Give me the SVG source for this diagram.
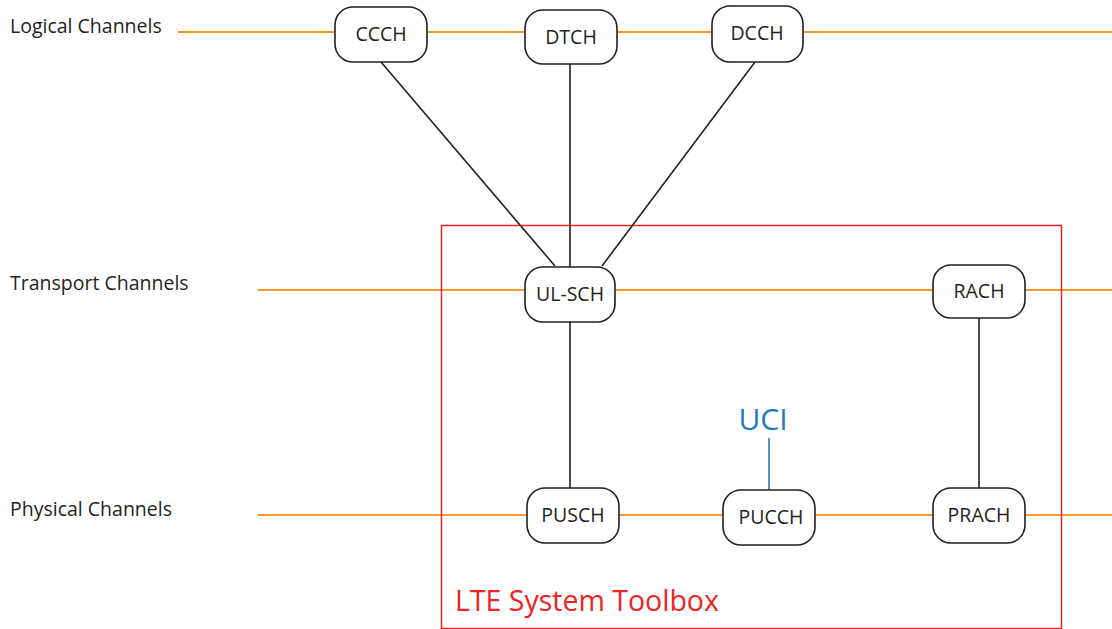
<svg xmlns="http://www.w3.org/2000/svg" width="1112" height="629" viewBox="0 0 1112 629">
<style>
.ch{stroke:#f39a2b;stroke-width:2;fill:none}
.lk{stroke:#231f20;stroke-width:1.6;fill:none}
.box{fill:#fff;stroke:#231f20;stroke-width:1.6}
.t{font-family:"Open Sans","Liberation Sans",sans-serif;font-size:19.5px;fill:#231f20;text-anchor:middle}
.lab{font-family:"Open Sans","Liberation Sans",sans-serif;font-size:19.5px;fill:#231f20}
</style>
<rect width="1112" height="629" fill="#fff"/>
<g id="channels">
<line class="ch" x1="178" y1="32" x2="1112" y2="32"/>
<line class="ch" x1="258" y1="290" x2="1112" y2="290"/>
<line class="ch" x1="258" y1="515" x2="1112" y2="515"/>
</g>
<g id="toolbox">
<rect x="441.5" y="225.5" width="620" height="403" fill="none" stroke="#ee2424" stroke-width="1.5"/>
<text x="455" y="611" font-family="'Open Sans','Liberation Sans',sans-serif" font-size="28.5" fill="#ee2424">LTE System Toolbox</text>
</g>
<g id="labels">
<text class="lab" x="10" y="33">Logical Channels</text>
<text class="lab" x="10" y="290">Transport Channels</text>
<text class="lab" x="10" y="516">Physical Channels</text>
</g>
<g id="connectors">
<line class="lk" x1="381" y1="62" x2="555" y2="266"/>
<line class="lk" x1="570" y1="64" x2="570" y2="267"/>
<line class="lk" x1="755" y1="62" x2="602" y2="266"/>
<line class="lk" x1="570" y1="322" x2="570" y2="488"/>
<line class="lk" x1="979" y1="318" x2="979" y2="488"/>
<line x1="769" y1="438" x2="769" y2="490" stroke="#1f7bc0" stroke-width="1.6"/>
</g>
<g id="CCCH"><rect class="box" x="335" y="7" width="92" height="55" rx="18"/><text class="t" x="381" y="41">CCCH</text></g>
<g id="DTCH"><rect class="box" x="525" y="10" width="92" height="54" rx="18"/><text class="t" x="571" y="44">DTCH</text></g>
<g id="DCCH"><rect class="box" x="712" y="6" width="91" height="56" rx="18"/><text class="t" x="757" y="40">DCCH</text></g>
<g id="UL-SCH"><rect class="box" x="525" y="267" width="90" height="55" rx="18"/><text class="t" x="570" y="301">UL-SCH</text></g>
<g id="RACH"><rect class="box" x="933" y="265" width="92" height="53" rx="18"/><text class="t" x="979" y="298">RACH</text></g>
<g id="PUSCH"><rect class="box" x="527" y="488" width="92" height="55" rx="18"/><text class="t" x="573" y="522">PUSCH</text></g>
<g id="PUCCH"><rect class="box" x="723" y="490" width="92" height="55" rx="18"/><text class="t" x="771" y="524">PUCCH</text></g>
<g id="PRACH"><rect class="box" x="933" y="488" width="92" height="55" rx="18"/><text class="t" x="979" y="522">PRACH</text></g>
<g id="UCI"><text x="763" y="430" font-family="'Open Sans','Liberation Sans',sans-serif" font-size="30" fill="#1f7bc0" text-anchor="middle">UCI</text></g>
</svg>
